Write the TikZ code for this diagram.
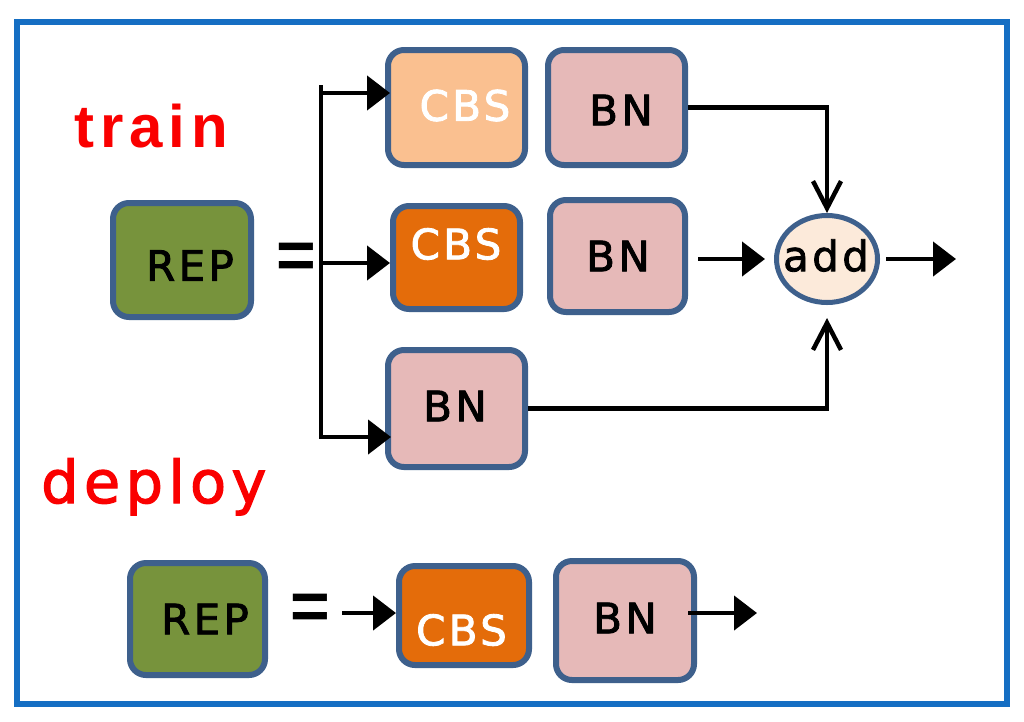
\documentclass[tikz,border=0pt]{standalone}
\usepackage{fontspec}
\setmainfont{Liberation Sans}
\newfontfamily\lblfont[LetterSpace=8,FakeBold=2]{DejaVu Sans}
\newfontfamily\trainfont[LetterSpace=10]{Liberation Sans}
\newfontfamily\deployfont[LetterSpace=9,FakeBold=2]{DejaVu Sans}
\usetikzlibrary{arrows.meta,shapes.geometric}
\definecolor{boxborder}{RGB}{62,96,140}
\definecolor{outerblue}{RGB}{21,110,195}
\definecolor{repgreen}{RGB}{119,147,60}
\definecolor{lightorange}{RGB}{250,192,144}
\definecolor{darkorange}{RGB}{228,108,10}
\definecolor{bnpink}{RGB}{230,185,184}
\definecolor{addfill}{RGB}{252,234,218}
\definecolor{titlered}{RGB}{250,0,0}
\begin{document}
\begin{tikzpicture}[x=1pt,y=-1pt,
  box/.style={draw=boxborder, line width=6pt, rounded corners=16pt, inner sep=0pt},
  lbl/.style={font=\lblfont\fontsize{42}{42}\selectfont, inner sep=0pt, text=black},
  wlbl/.style={lbl, text=white},
  eqsign/.style={font=\bfseries\fontsize{68}{68}\selectfont, inner sep=0pt},
  conn/.style={line width=4.5pt, draw=black},
  fa/.style={conn, -{Triangle[length=23pt,width=34pt]}},
  va/.style={conn, -{Straight Barb[length=27pt,width=28pt]}}
]
\useasboundingbox (0,0) rectangle (1024,721);
\fill[white] (0,0) rectangle (1024,721);
\draw[outerblue, line width=6pt] (16.5,21.5) rectangle (1007,704);

% titles
\node[anchor=base west, inner sep=0pt, text=titlered, font=\trainfont\bfseries\fontsize{60}{60}\selectfont] (train) at (74,147) {train};
\node[anchor=base west, inner sep=0pt, text=titlered, font=\deployfont\fontsize{59}{59}\selectfont] (deploy) at (41,503) {deploy};

% train boxes
\node[box, fill=repgreen, minimum width=138pt, minimum height=114pt] (rep1) at (182,260) {};
\node[box, fill=lightorange, minimum width=137pt, minimum height=115pt] (cbs1) at (456.5,107.5) {};
\node[box, fill=bnpink, minimum width=137pt, minimum height=115pt] (bn1) at (616.5,107.5) {};
\node[box, fill=darkorange, minimum width=127pt, minimum height=103pt] (cbs2) at (456.5,257.5) {};
\node[box, fill=bnpink, minimum width=135pt, minimum height=112pt] (bn2) at (617.5,256) {};
\node[box, fill=bnpink, minimum width=137pt, minimum height=117pt] (bn3) at (456.5,408.5) {};
\node[ellipse, draw=boxborder, line width=5pt, fill=addfill, minimum width=101pt, minimum height=87pt, inner sep=0pt] (add) at (827,259) {};

% deploy boxes
\node[box, fill=repgreen, minimum width=135pt, minimum height=112pt] (rep2) at (197.5,619) {};
\node[box, fill=darkorange, minimum width=130pt, minimum height=99pt] (cbs3) at (464,615.5) {};
\node[box, fill=bnpink, minimum width=138pt, minimum height=119pt] (bn4) at (625,620.5) {};

% labels
\node[wlbl] (tcbs1) at (465,105.5) {CBS};
\node[lbl] (tbn1) at (621,110) {BN};
\node[wlbl] (tcbs2) at (456,244) {CBS};
\node[lbl] (tbn2) at (618,256) {BN};
\node[lbl] (tbn3) at (455,406) {BN};
\node[lbl] (trep1) at (190,265.5) {REP};
\node[lbl] (tadd) at (826,255.5) {add};
\node[lbl] (trep2) at (205,619) {REP};
\node[wlbl] (tcbs3) at (461.5,630) {CBS};
\node[lbl] (tbn4) at (625,618) {BN};

% equal signs
\node[eqsign] (eq1) at (296.5,260.5) {=};
\node[eqsign] (eq2) at (310,611.5) {=};

% train connectors
\coordinate (spT) at (321,85);
\coordinate (a1) at (321,93);
\coordinate (a2) at (321,263);
\coordinate (a3) at (321,437);
\draw[fa, shorten >=-6pt] (spT) -- (a3) -- (a3 -| bn3.west);
\draw[fa, shorten >=-5pt] (a1) -- (a1 -| cbs1.west);
\draw[fa] (a2) -- (a2 -| cbs2.west);
\draw[va] (bn1.east) -| (add.north);
\draw[va, shorten >=13pt] (bn3.east) -| (add.south);
\draw[fa, shorten <=10pt, shorten >=9pt] (bn2.east |- add.west) -- (add.west);
\coordinate (out1) at (956,259);
\draw[fa, shorten <=6pt] (add.east) -- (out1);

% deploy connectors
\coordinate (d0) at (342,613);
\draw[fa] (d0) -- (d0 -| cbs3.west);
\coordinate (out2) at (757,613);
\draw[fa, shorten <=-9pt] (out2 -| bn4.east) -- (out2);
\end{tikzpicture}
\end{document}
